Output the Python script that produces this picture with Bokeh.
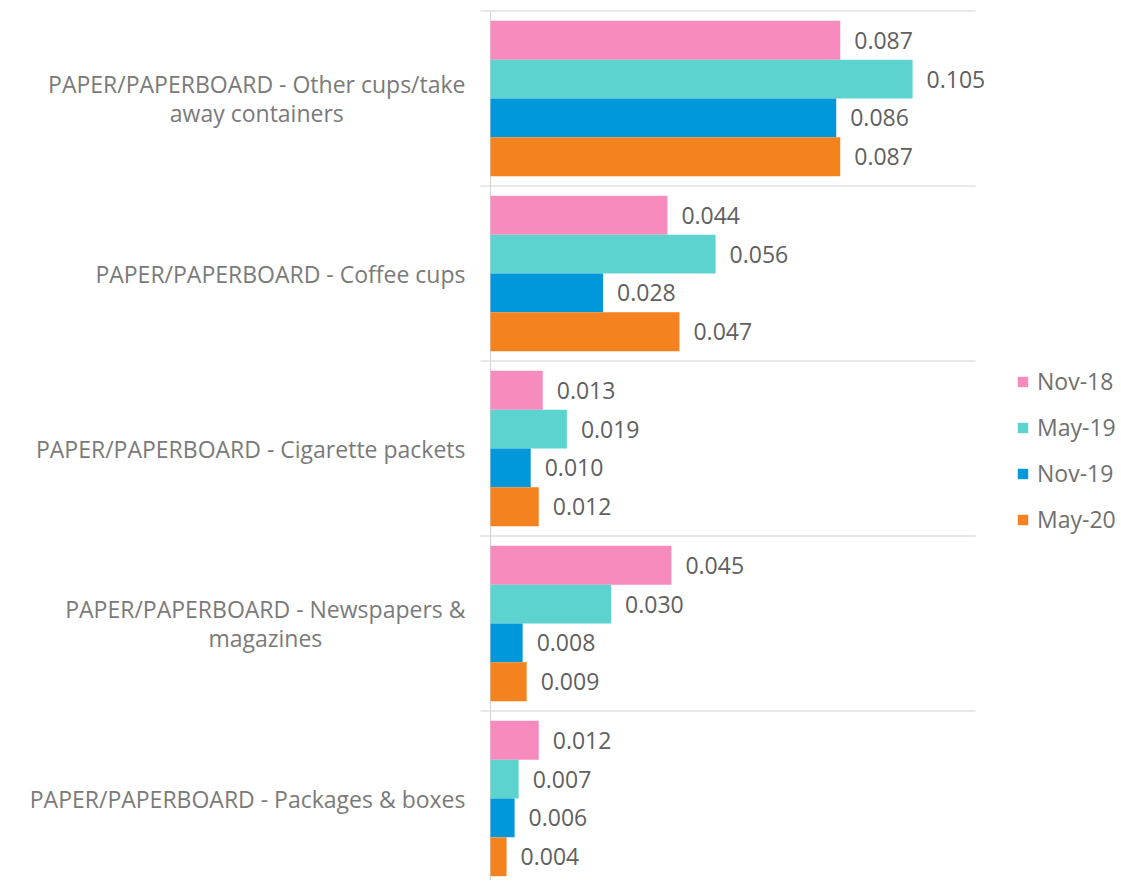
from bokeh.plotting import figure
from bokeh.models import Range1d, Legend, LegendItem, ColumnDataSource
from bokeh.transform import dodge
from bokeh.embed import file_html
from bokeh.resources import INLINE
from bokeh.core.properties import value

categories = [
    "PAPER/PAPERBOARD - Other cups/take\naway containers",
    "PAPER/PAPERBOARD - Coffee cups",
    "PAPER/PAPERBOARD - Cigarette packets",
    "PAPER/PAPERBOARD - Newspapers &\nmagazines",
    "PAPER/PAPERBOARD - Packages & boxes",
]
series = ["Nov-18", "May-19", "Nov-19", "May-20"]
nov18 = [0.087, 0.044, 0.013, 0.045, 0.012]
may19 = [0.105, 0.056, 0.019, 0.030, 0.007]
nov19 = [0.086, 0.028, 0.010, 0.008, 0.006]
may20 = [0.087, 0.047, 0.012, 0.009, 0.004]
values_by_series = [nov18, may19, nov19, may20]
colors = ["#F78BBE", "#5DD3D0", "#0097DB", "#F4821F"]

W, H = 1118, 880
PX_PER_UNIT = 4020.0       # horizontal pixels per data unit
ZERO_PX = 490.0            # screen x of the zero line
GROUP_PX = 175.0           # vertical pixels per category
TOP_PX = 10.5              # screen y of first category boundary

x0 = -ZERO_PX / PX_PER_UNIT
x1 = x0 + W / PX_PER_UNIT
y_top = -0.5 - TOP_PX / GROUP_PX
y_bot = y_top + H / GROUP_PX

def px(dx):
    return dx / PX_PER_UNIT

FONT = "Open Sans"
FS = "23px"

p = figure(width=W, height=H, output_backend="svg", toolbar_location=None,
           x_range=Range1d(x0, x1), y_range=Range1d(y_bot, y_top),
           min_border_left=0, min_border_right=0, min_border_top=0, min_border_bottom=0)
p.outline_line_color = None
p.xgrid.visible = False
p.ygrid.visible = False
p.xaxis.visible = False
p.yaxis.visible = False
p.background_fill_color = "white"
p.border_fill_color = "white"

idx = list(range(len(categories)))

# separators between categories
sep_src = ColumnDataSource(dict(y=[i - 0.5 for i in idx]))
p.segment(x0=px(-10), x1=px(485), y0="y", y1="y", source=sep_src,
          line_color="#e0e0e0", line_width=1.5)

# vertical axis line at zero
p.segment(x0=[0], x1=[0], y0=[-0.5], y1=[y_bot], line_color="#d2d2d2", line_width=1)

# category labels (right-anchored block, centred lines)
cat_src = ColumnDataSource(dict(y=idx, t=categories))
p.text(x=px(-25), y="y", text="t", source=cat_src, anchor="center_right",
       text_align="center", text_baseline="middle", text_line_height=0.93,
       text_font=value(FONT), text_font_size=FS, text_color="#7a7a7a")

offsets = [-0.333, -0.111, 0.111, 0.333]
bar_h = 0.222
items = []
for j, name in enumerate(series):
    vals = values_by_series[j]
    src = ColumnDataSource(dict(y=idx, v=vals, lab=[f"{v:.3f}" for v in vals]))
    r = p.hbar(y=dodge("y", offsets[j]), left=0, right="v", height=bar_h, source=src,
               fill_color=colors[j], line_color=None)
    p.text(x="v", y=dodge("y", offsets[j]), text="lab", source=src, x_offset=14,
           text_baseline="middle", text_align="left", text_font=value(FONT),
           text_font_size=FS, text_color="#606060")
    items.append(LegendItem(label=name, renderers=[r]))

legend = Legend(items=items, location=(1016, 344), orientation="vertical",
                glyph_width=13, glyph_height=13, label_height=34, spacing=12,
                label_standoff=8, padding=0, margin=0,
                border_line_color=None, background_fill_alpha=0,
                label_text_font=FONT, label_text_font_size=FS,
                label_text_color="#707070")
p.add_layout(legend)

open("out.html", "w").write(file_html(p, INLINE))
